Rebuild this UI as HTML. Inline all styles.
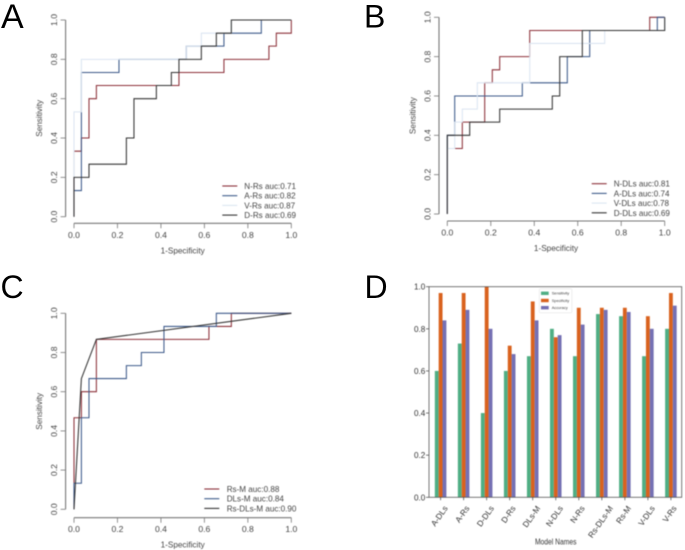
<!DOCTYPE html>
<html lang="en">
<head>
<meta charset="utf-8">
<title>ROC curves and model metrics</title>
<style>
html,body{margin:0;padding:0;background:#fff;}
body{width:685px;height:550px;overflow:hidden;position:relative;font-family:"Liberation Sans",sans-serif;}
svg{position:absolute;left:0;top:0;}
#chart{filter:blur(0.45px);}
.letter{font-family:"Liberation Sans",sans-serif;font-size:32px;fill:#000;}
</style>
</head>
<body>
<svg id="chart" width="685" height="550" viewBox="0 0 685 550" xmlns="http://www.w3.org/2000/svg"></svg>
<svg id="letters" width="685" height="550" viewBox="0 0 685 550" xmlns="http://www.w3.org/2000/svg">
<text class="letter" x="1" y="28" style="font-size:34px">A</text>
<text class="letter" x="364" y="27.5">B</text>
<text class="letter" x="0.5" y="298">C</text>
<text class="letter" x="364.5" y="298">D</text>
</svg>
<script>
// Shared tick labels
const rocTicks = [0, 0.2, 0.4, 0.6, 0.8, 1.0];

// Panel A values
const nRsFpr = [0,0,0.034,0.034,0.069,0.069,0.103,0.103,0.483,0.483,0.690,0.690,0.897,0.897,0.931,0.931,1,1];
const nRsTpr = [0,0.333,0.333,0.4,0.4,0.6,0.6,0.667,0.667,0.733,0.733,0.8,0.8,0.867,0.867,0.933,0.933,1];
const aRsFpr = [0,0,0.034,0.034,0.207,0.207,0.517,0.517,0.586,0.586,0.690,0.690,0.862,0.862,1];
const aRsTpr = [0,0.133,0.133,0.733,0.733,0.8,0.8,0.867,0.867,0.867,0.867,0.933,0.933,1,1];
const vRsFpr = [0,0,0.034,0.034,0.517,0.517,0.586,0.586,0.724,0.724,1];
const vRsTpr = [0,0.533,0.533,0.8,0.8,0.867,0.867,0.933,0.933,1,1];
const dRsFpr = [0,0,0.069,0.069,0.241,0.241,0.276,0.276,0.379,0.379,0.448,0.448,0.483,0.483,0.586,0.586,0.655,0.655,0.724,0.724,1];
const dRsTpr = [0,0.2,0.2,0.267,0.267,0.4,0.4,0.6,0.6,0.667,0.667,0.733,0.733,0.8,0.8,0.867,0.867,0.933,0.933,1,1];
const panelALabels = ["N-Rs auc:0.71","A-Rs auc:0.82","V-Rs auc:0.87","D-Rs auc:0.69"];

// Panel B values
const nDlsFpr = [0,0,0.069,0.069,0.172,0.172,0.207,0.207,0.241,0.241,0.379,0.379,0.931,0.931,1];
const nDlsTpr = [0,0.333,0.333,0.467,0.467,0.667,0.667,0.733,0.733,0.8,0.8,0.933,0.933,1,1];
const aDlsFpr = [0,0,0.034,0.034,0.345,0.345,0.552,0.552,0.655,0.655,0.966,0.966,1];
const aDlsTpr = [0,0.4,0.4,0.6,0.6,0.667,0.667,0.8,0.8,0.933,0.933,1,1];
const vDlsFpr = [0,0,0.034,0.034,0.069,0.069,0.138,0.138,0.379,0.379,0.724,0.724,1,1];
const vDlsTpr = [0,0.333,0.333,0.467,0.467,0.533,0.533,0.667,0.667,0.867,0.867,0.933,0.933,1];
const dDlsFpr = [0,0,0.103,0.103,0.241,0.241,0.483,0.483,0.517,0.517,0.621,0.621,1,1];
const dDlsTpr = [0,0.4,0.4,0.467,0.467,0.533,0.533,0.6,0.6,0.8,0.8,0.933,0.933,1];
const panelBLabels = ["N-DLs auc:0.81","A-DLs auc:0.74","V-DLs auc:0.78","D-DLs auc:0.69"];

// Panel C values
const rsMFpr = [0,0,0.034,0.034,0.103,0.103,0.621,0.621,0.724,0.724,1];
const rsMTpr = [0,0.467,0.467,0.6,0.6,0.867,0.867,0.933,0.933,1,1];
const dlsMFpr = [0,0,0.034,0.034,0.069,0.069,0.241,0.241,0.310,0.310,0.414,0.414,0.655,0.655,1];
const dlsMTpr = [0,0.133,0.133,0.467,0.467,0.667,0.667,0.733,0.733,0.8,0.8,0.933,0.933,1,1];
const rsDlsMFpr = [0,0.034,0.103,1];
const rsDlsMTpr = [0,0.667,0.867,1];
const panelCLabels = ["Rs-M auc:0.88","DLs-M auc:0.84","Rs-DLs-M auc:0.90"];

// Panel D values
const modelNames = ["A-DLs","A-Rs","D-DLs","D-Rs","DLs-M","N-DLs","N-Rs","Rs-DLs-M","Rs-M","V-DLs","V-Rs"];
const sensitivity = [0.60,0.73,0.40,0.60,0.67,0.80,0.67,0.87,0.86,0.67,0.80];
const specificity = [0.97,0.97,1.00,0.72,0.93,0.76,0.90,0.90,0.90,0.86,0.97];
const accuracy = [0.84,0.89,0.80,0.68,0.84,0.77,0.82,0.89,0.88,0.80,0.91];
const metricNames = ["Sensitivity","Specificity","Accuracy"];
const barTicks = [0, 0.2, 0.4, 0.6, 0.8, 1.0];

const SVGNS = "http://www.w3.org/2000/svg";
const root = document.getElementById("chart");
const RED = "#8c3039", BLUE = "#3d5a8a", PALE = "#dbe5f1", DARK = "#333333";
const AXIS = "#777777", LABEL = "#444444";

function node(tag, attrs, parent) {
  const el = document.createElementNS(SVGNS, tag);
  for (const k in attrs) el.setAttribute(k, attrs[k]);
  (parent || root).appendChild(el);
  return el;
}

function drawRocPanel(id, box, series, labels, legendBox) {
  const sx = v => box.x0 + v * (box.x1 - box.x0);
  const sy = v => box.y0 + v * (box.y1 - box.y0);

  const panel = node("g", {});
  
  

  const xAxis = node("path", {
    d: "M" + sx(0) + " " + box.axisY + "H" + sx(1), stroke: AXIS, "stroke-width": 1.1, fill: "none"
  }, panel);
  
  

  const yAxis = node("path", {
    d: "M" + box.axisX + " " + sy(0) + "V" + sy(1), stroke: AXIS, "stroke-width": 1.1, fill: "none"
  }, panel);
  
  

  rocTicks.forEach(t => {
    const xt = node("path", {
      d: "M" + sx(t) + " " + box.axisY + "v5", stroke: AXIS, "stroke-width": 0.8
    }, panel);
    
    

    const yt = node("path", {
      d: "M" + box.axisX + " " + sy(t) + "h-5", stroke: AXIS, "stroke-width": 0.8
    }, panel);
    
    

    const xl = node("text", {
      x: sx(t), y: box.axisY + 14.5, "text-anchor": "middle", "font-size": 8.6, fill: LABEL
    }, panel);
    
    
    xl.textContent = t.toFixed(1);

    const yl = node("text", {
      x: 0, y: 0, "text-anchor": "middle", "font-size": 8.6, fill: LABEL,
      transform: "translate(" + (box.axisX - 8.5) + " " + sy(t) + ") rotate(-90)"
    }, panel);
    
    
    yl.textContent = t.toFixed(1);
  });

  const xTitle = node("text", {
    x: (sx(0) + sx(1)) / 2, y: box.axisY + 30, "text-anchor": "middle", "font-size": 8.2, fill: LABEL
  }, panel);
  
  
  xTitle.textContent = "1-Specificity";

  const yTitle = node("text", {
    x: 0, y: 0, "text-anchor": "middle", "font-size": 8.2, fill: LABEL,
    transform: "translate(" + (box.axisX - 23.5) + " " + ((sy(0) + sy(1)) / 2) + ") rotate(-90)"
  }, panel);
  
  
  yTitle.textContent = "Sensitivity";

  series.forEach((s, i) => {
    const pts = s.fpr.map((f, j) => sx(f).toFixed(2) + "," + sy(s.tpr[j]).toFixed(2)).join(" ");
    const line = node("polyline", {
      points: pts, fill: "none", stroke: s.color, "stroke-width": 1.05, "stroke-linejoin": "miter"
    }, panel);
    
    
  });

  labels.forEach((label, i) => {
    const y = legendBox.y + i * legendBox.step;
    const swatch = node("line", {
      x1: legendBox.lineX, x2: legendBox.lineX + 15, y1: y, y2: y,
      stroke: series[i].color, "stroke-width": 1.1
    }, panel);
    
    

    const text = node("text", {
      x: legendBox.textX, y: y + 3, "font-size": 8.1, fill: LABEL
    }, panel);
    
    
    text.textContent = label;
  });
}

drawRocPanel("a", {x0:74, x1:291.3, y0:216.7, y1:20, axisX:65.6, axisY:223.3}, [
  {fpr:nRsFpr, tpr:nRsTpr, color:RED},
  {fpr:aRsFpr, tpr:aRsTpr, color:BLUE},
  {fpr:vRsFpr, tpr:vRsTpr, color:PALE},
  {fpr:dRsFpr, tpr:dRsTpr, color:DARK}
], panelALabels, {lineX:222.3, textX:244.3, y:186, step:9.7});

drawRocPanel("b", {x0:447.3, x1:664.7, y0:214, y1:17.3, axisX:439, axisY:221}, [
  {fpr:nDlsFpr, tpr:nDlsTpr, color:RED},
  {fpr:aDlsFpr, tpr:aDlsTpr, color:BLUE},
  {fpr:vDlsFpr, tpr:vDlsTpr, color:PALE},
  {fpr:dDlsFpr, tpr:dDlsTpr, color:DARK}
], panelBLabels, {lineX:591.7, textX:613.7, y:183.7, step:9.7});

drawRocPanel("c", {x0:74, x1:291.3, y0:509.3, y1:313.3, axisX:65.6, axisY:517.7}, [
  {fpr:rsMFpr, tpr:rsMTpr, color:RED},
  {fpr:dlsMFpr, tpr:dlsMTpr, color:BLUE},
  {fpr:rsDlsMFpr, tpr:rsDlsMTpr, color:DARK}
], panelCLabels, {lineX:204.3, textX:226.7, y:489, step:9.7});

function drawBarPanel() {
  const left = 429, right = 681.7, top = 286.7, bottom = 497.3;
  const firstCenter = 440.6, step = 23.03, barW = 3.85;
  const sy = v => bottom + v * (top - bottom);
  const sx = i => firstCenter + i * step;
  const metrics = [sensitivity, specificity, accuracy];
  const colors = ["#4fae84", "#d9621e", "#7570b3"];

  const panel = node("g", {});
  
  

  metrics.forEach((values, m) => {
    values.forEach((v, i) => {
      const bar = node("rect", {
        x: sx(i) + (m - 1.5) * barW, y: sy(v), width: barW, height: bottom - sy(v), fill: colors[m]
      }, panel);
      
      
    });
  });

  const frame = node("rect", {
    x: left, y: top, width: right - left, height: bottom - top, fill: "none", stroke: "#555555", "stroke-width": 0.8
  }, panel);
  
  

  barTicks.forEach(t => {
    const tick = node("path", {
      d: "M" + left + " " + sy(t) + "h-3", stroke: "#444444", "stroke-width": 0.7
    }, panel);
    
    

    const label = node("text", {
      x: left - 3.7, y: sy(t) + 3, "text-anchor": "end", "font-size": 8.1, fill: "#333333"
    }, panel);
    
    
    label.textContent = t.toFixed(1);
  });

  modelNames.forEach((name, i) => {
    const tick = node("path", {
      d: "M" + sx(i) + " " + bottom + "v3", stroke: "#444444", "stroke-width": 0.7
    }, panel);
    
    

    const label = node("text", {
      x: 0, y: 0, "text-anchor": "middle", "font-size": 8.2, fill: "#333333"
    }, panel);
    
    
    label.textContent = name;
    // Rotated label is centred under its tick, with the top of its bounding box on a common line.
    const halfHeight = (label.getComputedTextLength() * Math.sin(55 * Math.PI / 180) + 8 * Math.cos(55 * Math.PI / 180)) / 2;
    label.setAttribute("transform", "translate(" + (sx(i) + 1) + " " + (503.5 + halfHeight + 2.5) + ") rotate(-55)");
  });

  const title = node("text", {
    x: 555.7, y: 544.5, "text-anchor": "middle", "font-size": 8, fill: "#333333",
    textLength: 41.5, lengthAdjust: "spacingAndGlyphs"
  }, panel);
  
  
  title.textContent = "Model Names";

  const legend = node("rect", {
    x: 539.3, y: 288.8, width: 32.6, height: 24, rx: 1, fill: "#ffffff", stroke: "#dddddd", "stroke-width": 0.5
  }, panel);
  
  

  metricNames.forEach((name, m) => {
    const y = 293.3 + m * 7.2;
    const patch = node("rect", {
      x: 541, y: y - 1.7, width: 7.7, height: 3.4, fill: colors[m]
    }, panel);
    
    

    const text = node("text", {
      x: 551.7, y: y + 1.3, "font-size": 3.9, fill: "#444444"
    }, panel);
    
    
    text.textContent = name;
  });
}
drawBarPanel();
</script>
</body>
</html>
